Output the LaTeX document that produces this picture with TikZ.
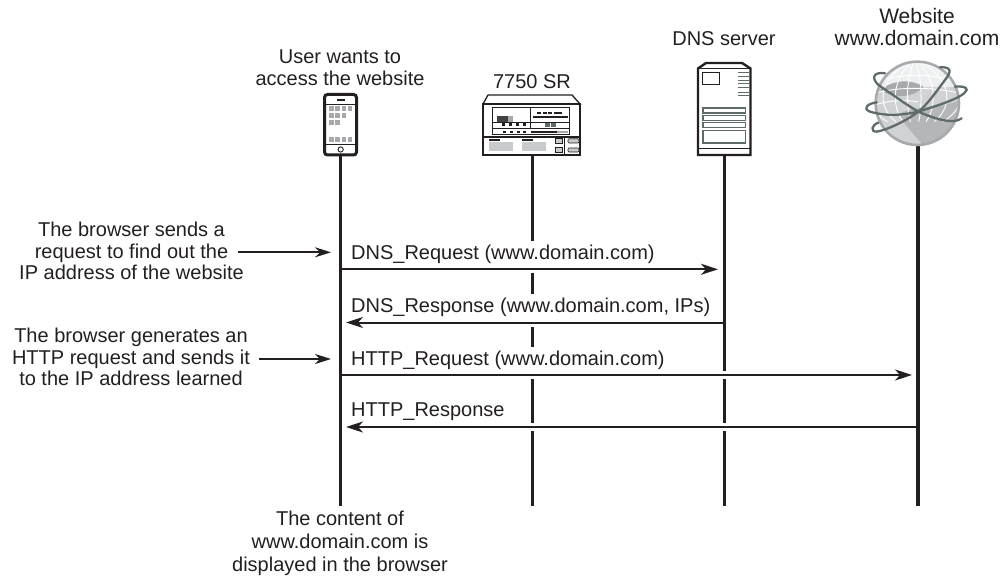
\documentclass[tikz,border=0pt]{standalone}
\usepackage{fontspec}
\setmainfont{Liberation Sans}
\usetikzlibrary{arrows.meta}
\definecolor{ink}{HTML}{231F20}
\definecolor{gA}{HTML}{A7A9AC}
\definecolor{gB}{HTML}{C8CACC}
\definecolor{gC}{HTML}{5F6B6B}
\tikzset{x=1pt,y=-1pt,
 life/.style={ink,line width=3.6pt},
 msg/.style={ink,line width=2pt,-{Stealth[length=17pt,width=11pt,inset=5pt]}},
 halo/.style={white,line width=8pt},
 note/.style={ink,line width=1.8pt,-{Stealth[length=16pt,width=10pt,inset=5pt]}},
 lab/.style={font=\fontsize{20}{21.5}\selectfont,text=ink,inner sep=0pt,align=center},
 mlab/.style={font=\fontsize{20}{21.5}\selectfont,text=ink,inner sep=0pt,anchor=base west,fill=white,text height=19pt,text depth=8pt},
 part/.style={ink,line width=1pt},
 thinpart/.style={ink,line width=.6pt},
 orbit/.style={gC,line width=2.3pt,line cap=round}}
\begin{document}
\begin{tikzpicture}
\useasboundingbox (0,0) rectangle (1001,580);
% lifeline ends
\coordinate (uT) at (340.5,150); \coordinate (uB) at (340.5,506);
\coordinate (rT) at (532.3,155); \coordinate (rB) at (532.3,506);
\coordinate (dT) at (724.3,155); \coordinate (dB) at (724.3,506);
\coordinate (wT) at (918,146); \coordinate (wB) at (918,506);
\draw[life] (uT)--(uB);
\draw[life] (rT)--(rB);
\draw[life] (dT)--(dB);
\draw[life] (wT)--(wB);
% phone
\draw[ink,line width=3pt,fill=white,rounded corners=3pt] (324.5,94.5) rectangle (356.5,155);
\draw[ink,line width=1.2pt] (325,104.5)--(356,104.5) (325,144.5)--(356,144.5);
\draw[ink,line width=1.6pt] (337,100)--(345,100);
\draw[ink,line width=.9pt] (340.7,149.5) circle (2.6);
\foreach \x/\y in {329/106,335/106,341.5/106,347.5/106,329/113,335/113,341.5/113,329/120.5,335/120.5,329/137,335/137,341.5/137,347.5/137}
  \fill[gA] (\x,\y) rectangle ++(4.6,4.8);
% router
\draw[ink,fill=white,line width=1.3pt] (483,104)--(488,95)--(572,95)--(580,104)--cycle;
\draw[ink,line width=1.5pt,fill=white] (483,104) rectangle (580,155);
\draw[ink,line width=1.1pt] (483,137)--(580,137);
\draw[part] (492,108) rectangle (569,134.5);
\draw[thinpart,line width=.8pt] (492,128)--(569,128) (530,108)--(530,128) (492,122)--(569,122);
\fill[ink!85] (497,116) rectangle (508,122);
\fill[gA] (508,116) rectangle (513,122);
\foreach \x in {502,509,516,523} \fill[ink] (\x,123.5) rectangle ++(3,2.6);
\foreach \x in {503,510,517,523} \fill[ink] (\x,131) rectangle ++(2.6,1.6);
\fill[ink] (531,130.6) rectangle (557,132.8);
\fill[gA] (557,130.6) rectangle (568,133.5);
\foreach \x in {537,542.5,548,553.5,558} \fill[ink] (\x,112) rectangle ++(4.4,1.8);
\fill[ink] (533,115.8) rectangle (568,118.2);
\fill[gC] (545,123.5) rectangle (549.6,127);
\fill[gC] (550.5,123.5) rectangle (555.5,127);
\fill[ink] (489,138.8) rectangle (500,141);
\fill[ink] (522,138.8) rectangle (533,141);
\fill[gB] (489,142.5) rectangle (513,151);
\fill[gB] (522,142.5) rectangle (546,151);
\draw[thinpart,fill=gB] (555,138.5) rectangle (562,143.5);
\draw[thinpart,fill=gB] (555,147) rectangle (562,152);
\draw[thinpart,fill=gB,rounded corners=1pt] (568,138.8) rectangle (579,143);
\draw[thinpart,fill=gB,rounded corners=1pt] (568,148) rectangle (579,152);
\draw[thinpart,line width=.9pt] (564.5,137)--(564.5,155);
% server
\draw[ink,line width=2.4pt,fill=white] (698,68.5)--(706,63)--(742,63)--(750.5,68.5)--(750.5,155)--(698,155)--cycle;
\draw[ink,line width=1pt] (698,69)--(750.5,69) (698,149)--(750.5,149);
\draw[ink,line width=.9pt] (702.5,72) rectangle (719.5,84);
\draw[gC,line width=.9pt] (738,72)--(749,72) (738,76)--(749,76) (738,80)--(749,80) (738,83.5)--(749,83.5) (738,87.5)--(749,87.5) (738,92)--(749,92) (738,95.5)--(749,95.5);
\draw[gC,line width=1.1pt] (703,108) rectangle (745.5,113);
\draw[gC,line width=1.1pt] (703,115.5) rectangle (745.5,120.5);
\draw[gC,line width=1.1pt] (703,122.5) rectangle (745.5,127.5);
\draw[gC,line width=1.1pt] (703,130.5) rectangle (745.5,143);
% globe, in zoom coordinates
\begin{scope}[shift={(860,50)},x=.3333pt,y=-.3333pt]
\begin{scope}
\clip (172,160) circle (125);
\fill[gB!85!white] (40,30) rectangle (300,290);
\fill[white!70!gB] (40,30) rectangle (300,110);
\fill[gA!85!white] (120,190) .. controls (170,165) and (250,175) .. (300,150) -- (300,220) -- (240,290) -- (190,290) .. controls (165,250) and (130,230) .. (120,190) -- cycle;
\fill[gA] (60,120) .. controls (100,90) and (150,85) .. (190,110) .. controls (165,140) and (110,150) .. (60,120) -- cycle;
\foreach \b in {-150,-105,-65,-25,20,60,105,150}
  \draw[white,line width=.9pt] (165,30) .. controls (165+\b*1.1,80) and (165+\b*1.1,170) .. (165+\b*.55,215);
\draw[white,line width=.9pt] (50,95) .. controls (110,70) and (220,70) .. (290,95);
\draw[white,line width=.9pt] (45,130) .. controls (110,110) and (220,110) .. (300,130);
\draw[white,line width=.9pt] (45,165) .. controls (90,150) and (130,150) .. (175,155);
\draw[white,line width=.9pt] (50,200) .. controls (80,190) and (100,190) .. (130,195);
\end{scope}
\draw[gA,line width=2.6pt] (172,160) circle (125);
\draw[orbit] (75,70) .. controls (45,65) and (30,80) .. (55,105) .. controls (100,135) and (140,165) .. (175,185) .. controls (220,205) and (280,225) .. (305,205);
\draw[orbit] (50,157) .. controls (25,160) and (5,175) .. (30,185) .. controls (80,200) and (130,195) .. (175,185) .. controls (220,170) and (310,145) .. (320,120) .. controls (322,110) and (300,108) .. (285,110);
\draw[orbit] (240,52) .. controls (275,50) and (275,65) .. (255,90) .. controls (225,130) and (205,160) .. (175,185) .. controls (135,215) and (80,240) .. (50,245) .. controls (30,245) and (35,225) .. (55,218);
\end{scope}
% header labels
\node[lab,font=\fontsize{20}{22.5}\selectfont] (user) at (340,67.5) {User wants to\\access the website};
\node[lab] (sr) at (532,82) {7750 SR};
\node[lab] (dns) at (724,38.5) {DNS server};
\node[lab,font=\fontsize{21}{21.5}\selectfont] (web) at (917,27) {Website\\www.domain.com};
% message anchors
\coordinate (a1) at (342.3,269.3); \coordinate (b1) at (718,269.3);
\coordinate (a2) at (722.5,322.5); \coordinate (b2) at (346,322.5);
\coordinate (a3) at (342.3,375); \coordinate (b3) at (912,375);
\coordinate (a4) at (916.2,427); \coordinate (b4) at (346,427);
\node[mlab] (m1) at (351,259.5) {DNS\_Request (www.domain.com)};
\node[mlab] (m2) at (351,312.5) {DNS\_Response (www.domain.com, IPs)};
\node[mlab] (m3) at (351,365.5) {HTTP\_Request (www.domain.com)};
\node[mlab] (m4) at (351,416.5) {HTTP\_Response};
\draw[halo] (a1)--(b1);
\draw[halo] (a2)--(b2);
\draw[halo] (a3)--(b3);
\draw[halo] (a4)--(b4);
\draw[msg] (a1)--(b1);
\draw[msg] (a2)--(b2);
\draw[msg] (a3)--(b3);
\draw[msg] (a4)--(b4);
% side notes
\node[lab] (n1) at (131.5,251) {The browser sends a\\request to find out the\\IP address of the website};
\node[lab] (n2) at (131,357) {The browser generates an\\HTTP request and sends it\\to the IP address learned};
\node[lab,font=\fontsize{20}{22.8}\selectfont] (n3) at (340,543.5) {The content of\\www.domain.com is\\displayed in the browser};
\coordinate (s1) at (238,252.3); \coordinate (t1) at (331,252.3);
\coordinate (s2) at (259,359); \coordinate (t2) at (331,359);
\draw[note] (s1)--(t1);
\draw[note] (s2)--(t2);
\end{tikzpicture}
\end{document}
